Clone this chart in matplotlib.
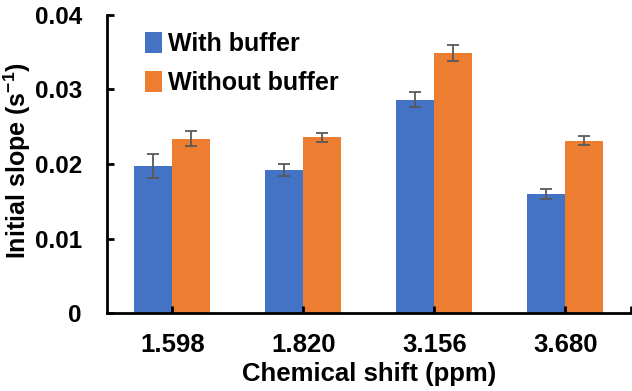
import matplotlib
matplotlib.use("Agg")
import matplotlib.pyplot as plt
import numpy as np
from matplotlib.ticker import FuncFormatter

plt.rcParams["font.family"] = ["Liberation Sans", "DejaVu Sans"]
plt.rcParams["font.weight"] = "bold"
plt.rcParams["mathtext.fontset"] = "custom"
plt.rcParams["mathtext.rm"] = "Liberation Sans:bold"
plt.rcParams["mathtext.default"] = "rm"

# Data
shifts = ["1.598", "1.820", "3.156", "3.680"]
with_buffer = [0.0197, 0.0192, 0.0286, 0.0160]
with_buffer_err = [0.0016, 0.0008, 0.0010, 0.0007]
without_buffer = [0.0234, 0.0236, 0.0349, 0.0231]
without_buffer_err = [0.0010, 0.0006, 0.0011, 0.0006]

blue = "#4472C4"
orange = "#ED7D31"
err_kw = dict(ecolor="#595959", elinewidth=1.3, capsize=4, capthick=1.3)

fig = plt.figure(figsize=(6.32, 3.91), dpi=100)
ax = fig.add_axes([0.169, 0.199, 0.829, 0.763])

x = np.arange(len(shifts))
w = 0.29
ax.bar(x - w / 2, with_buffer, w, yerr=with_buffer_err, color=blue,
       label="With buffer", error_kw=err_kw)
ax.bar(x + w / 2, without_buffer, w, yerr=without_buffer_err, color=orange,
       label="Without buffer", error_kw=err_kw)

ax.set_xlim(-0.5, 3.5)
ax.set_ylim(0, 0.04)
ax.set_yticks([0, 0.01, 0.02, 0.03, 0.04])
ax.yaxis.set_major_formatter(FuncFormatter(lambda v, p: "0" if v == 0 else f"{v:.2f}"))
ax.set_xticks(x)
ax.set_xticklabels(shifts)
ax.set_xticks([3.5], minor=True)

for s in ["top", "right"]:
    ax.spines[s].set_visible(False)
for s in ["left", "bottom"]:
    ax.spines[s].set_linewidth(2)

ax.tick_params(axis="y", direction="in", length=5, width=2, labelsize=17.5, pad=18)
ax.tick_params(axis="x", which="both", direction="in", length=5, width=2,
               labelsize=18.5, pad=14)

ax.set_xlabel("Chemical shift (ppm)", fontsize=18.5, fontweight="bold", labelpad=4)
ax.set_ylabel("Initial slope (s$^{-1}$)", fontsize=18, fontweight="bold")
ax.yaxis.set_label_coords(-0.14, 0.51)

ax.legend(loc="upper left", bbox_to_anchor=(0.04, 1.0), frameon=False,
          handlelength=0.65, handleheight=0.9, handletextpad=0.25,
          labelspacing=0.6, borderaxespad=0.3,
          prop={"weight": "bold", "size": 18})

fig.savefig("out.png", dpi=100)
